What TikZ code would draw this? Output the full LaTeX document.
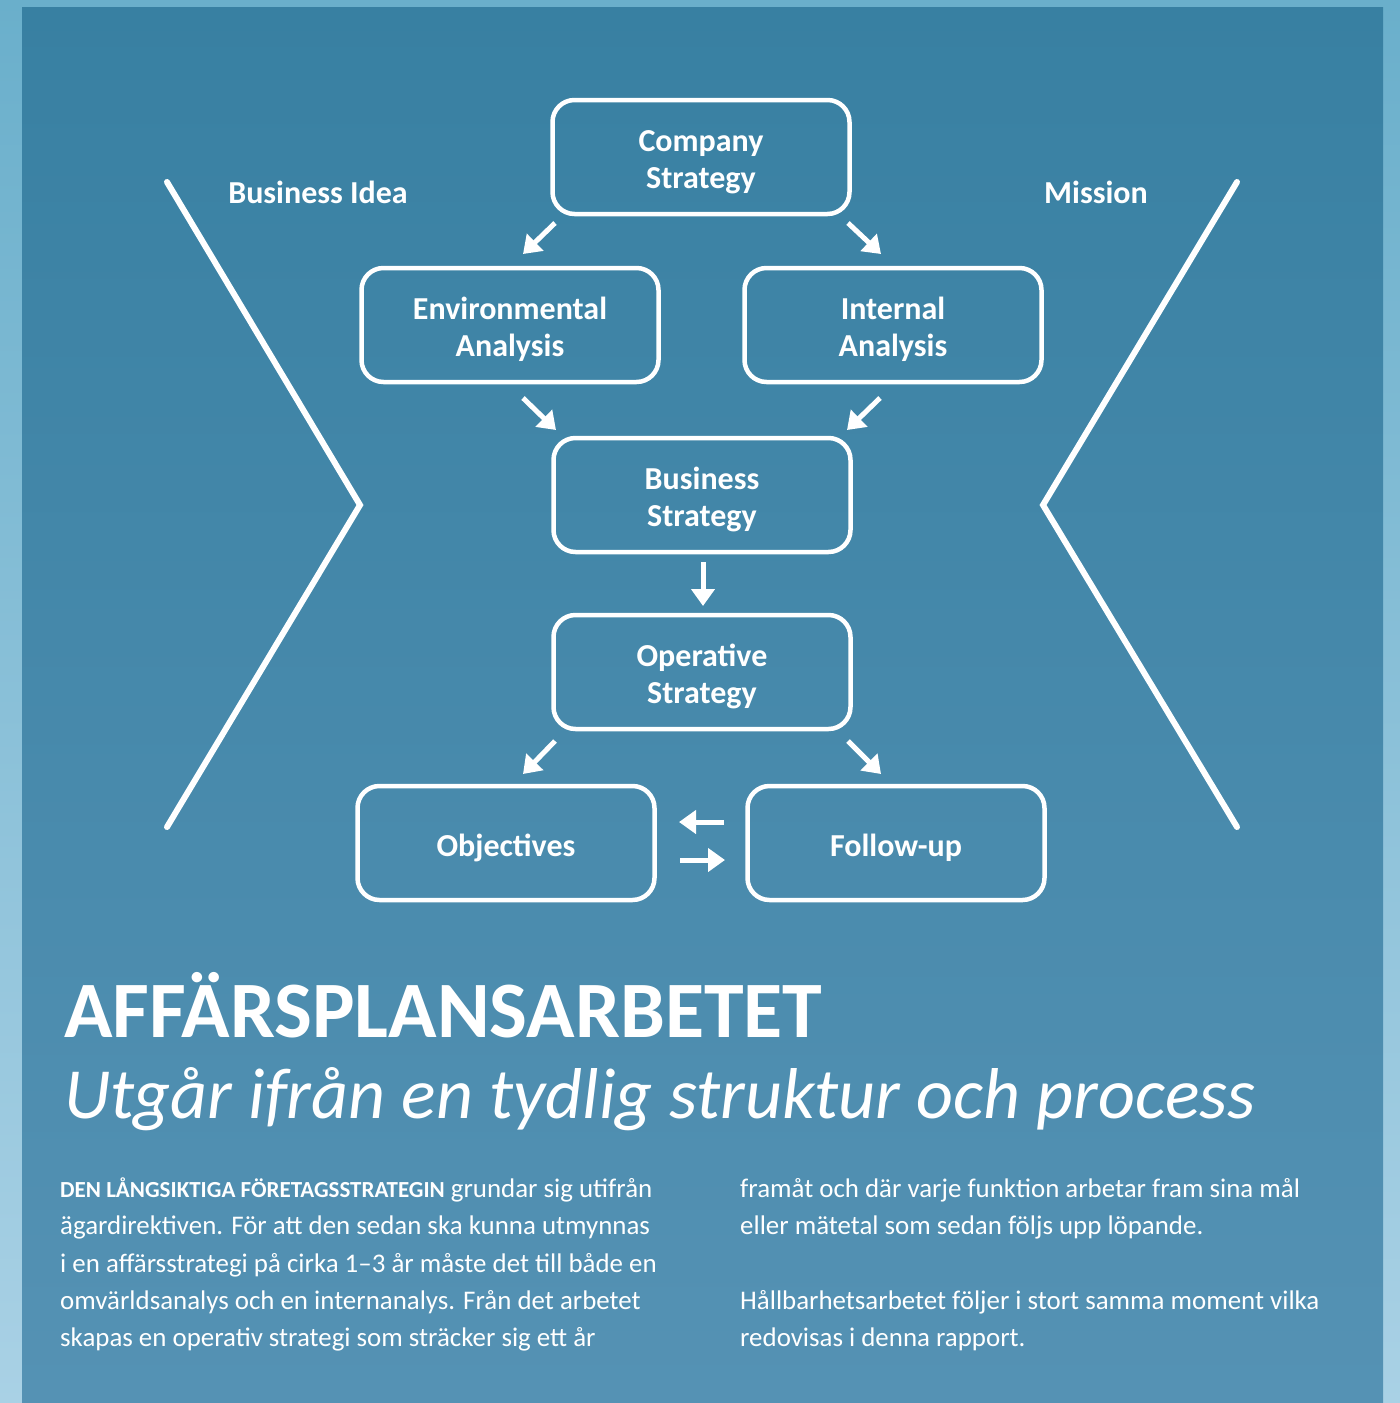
\documentclass[tikz,border=0pt]{standalone}
\usepackage{fontspec}
\setmainfont{Carlito}
\usetikzlibrary{arrows.meta}
\definecolor{outtop}{HTML}{6AAFCB}
\definecolor{outbot}{HTML}{A9D1E5}
\definecolor{intop}{HTML}{3880A2}
\definecolor{inbot}{HTML}{5592B4}
\newcommand\mytopstrut{\rule{0pt}{32pt}}
\tikzset{
  box/.style={draw=white, line width=4.5pt, rounded corners=22pt, minimum width=297pt, minimum height=114pt, text=white, align=center, font=\fontsize{32}{37}\selectfont\bfseries},
  boxone/.style={box, execute at begin node={\rule{0pt}{33pt}}},
  arr/.style={draw=white, line width=5pt, -{Triangle[length=17pt,width=23pt]}},
  chev/.style={draw=white, line width=6pt, line cap=round, line join=miter},
  lbl/.style={text=white, font=\fontsize{32}{36}\selectfont\bfseries},
  body/.style={text=white, anchor=base west, inner sep=0pt, font=\fontsize{26.9}{30}\selectfont}
}
\begin{document}
\begin{tikzpicture}[x=1pt,y=-1pt]
\useasboundingbox (0,0) rectangle (1400,1403);
\shade[top color=outtop, bottom color=outbot] (0,0) rectangle (1400,1403);
\shade[top color=intop, bottom color=inbot] (22,7) rectangle (1383,1403);

% chevrons
\coordinate (l1) at (167,182); \coordinate (l2) at (360,505); \coordinate (l3) at (167,827);
\coordinate (r1) at (1237,182); \coordinate (r2) at (1043,505); \coordinate (r3) at (1237,827);
\draw[chev] (l1) -- (l2) -- (l3);
\draw[chev] (r1) -- (r2) -- (r3);

\node[lbl] (bi) at (318,192) {Business Idea};
\node[lbl] (mi) at (1096,192) {Mission};

% boxes
\node[box] (cs) at (701,157) {\mytopstrut Company\\Strategy};
\node[box] (ea) at (510,325) {\mytopstrut Environmental\\Analysis};
\node[box] (ia) at (893,325) {\mytopstrut Internal\\Analysis};
\node[box] (bs) at (702,495) {\mytopstrut Business\\Strategy};
\node[box] (os) at (702,672) {\mytopstrut Operative\\Strategy};
\node[boxone] (ob) at (506,843) {Objectives};
\node[boxone] (fu) at (896,843) {Follow-up};

% arrow end points
\coordinate (a1s) at (555,223); \coordinate (a1e) at (523,254);
\coordinate (a2s) at (848,223); \coordinate (a2e) at (881,254);
\coordinate (a3s) at (523,398); \coordinate (a3e) at (556,430);
\coordinate (a4s) at (880,398); \coordinate (a4e) at (847,430);
\coordinate (a5s) at (703,562); \coordinate (a5e) at (703,606);
\coordinate (a6s) at (555,741); \coordinate (a6e) at (523,774);
\coordinate (a7s) at (848,741); \coordinate (a7e) at (881,774);
\coordinate (a8s) at (724,822); \coordinate (a8e) at (679,822);
\coordinate (a9s) at (680,860); \coordinate (a9e) at (725,860);
\foreach \i in {1,...,9} \draw[arr] (a\i s) -- (a\i e);

% title
\node[text=white, anchor=base west, inner sep=0pt, font=\fontsize{80}{86}\selectfont\bfseries] (title) at (64,1037) {AFFÄRSPLANSARBETET};
\node[text=white, anchor=base west, inner sep=0pt, font=\fontsize{72}{80}\selectfont\itshape] (sub) at (64,1118) {Utgår ifrån en tydlig struktur och process};

% body text
\node[body] (t1) at (60,1197) {{\fontsize{23}{26}\selectfont\bfseries DEN LÅNGSIKTIGA FÖRETAGSSTRATEGIN} grundar sig utifrån};
\node[body] (t2) at (60,1234) {ägardirektiven. För att den sedan ska kunna utmynnas};
\node[body] (t3) at (60,1272) {i en affärsstrategi på cirka 1–3 år måste det till både en};
\node[body] (t4) at (60,1309) {omvärldsanalys och en internanalys. Från det arbetet};
\node[body] (t5) at (60,1346) {skapas en operativ strategi som sträcker sig ett år};
\node[body] (u1) at (740,1197) {framåt och där varje funktion arbetar fram sina mål};
\node[body] (u2) at (740,1234) {eller mätetal som sedan följs upp löpande.};
\node[body] (u3) at (740,1309) {Hållbarhetsarbetet följer i stort samma moment vilka};
\node[body] (u4) at (740,1346) {redovisas i denna rapport.};
\end{tikzpicture}
\end{document}
